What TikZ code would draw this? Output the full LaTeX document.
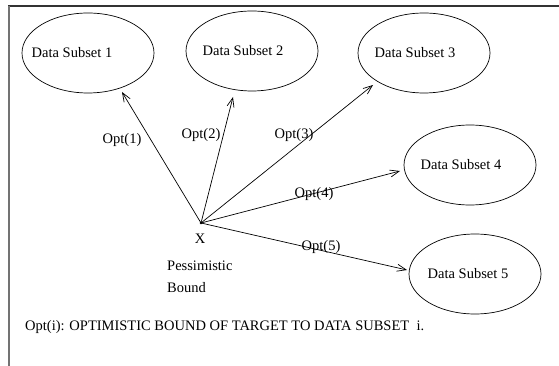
\documentclass[tikz,border=0pt]{standalone}
\usepackage{fontspec}
\setmainfont{Liberation Serif}
\usetikzlibrary{shapes.geometric,arrows.meta}
\begin{document}
\begin{tikzpicture}[x=1pt,y=-1pt,
  subset/.style={draw, ellipse, line width=0.7pt, minimum width=132pt, minimum height=80pt, inner sep=0pt},
  txt/.style={inner sep=0pt, font=\fontsize{14.5}{16}\selectfont},
  optlbl/.style={inner sep=0pt, font=\fontsize{14.5}{16}\selectfont},
  bound/.style={line width=0.7pt, -{Straight Barb[length=9pt,width=7pt,line width=0.7pt]}},
  frameline/.style={line width=1.6pt}]
  \useasboundingbox (0,0) rectangle (559,366);

  % frame
  \coordinate (ftl) at (9,6);
  \coordinate (ftr) at (559,6);
  \coordinate (fbl) at (9,366);
  \draw[frameline, black!80] (8,6) -- (ftr);
  \draw[frameline, black!55] (ftl) -- (fbl);

  % data subsets
  \node[subset] (d1) at (88,53) {};
  \node[subset] (d2) at (252,51) {};
  \node[subset] (d3) at (424,53) {};
  \node[subset] (d4) at (470,165) {};
  \node[subset] (d5) at (475,274) {};
  \node[txt] (t1) at (72,53) {Data Subset 1};
  \node[txt] (t2) at (243,51) {Data Subset 2};
  \node[txt] (t3) at (415,53) {Data Subset 3};
  \node[txt] (t4) at (461,165) {Data Subset 4};
  \node[txt] (t5) at (468,274) {Data Subset 5};

  % pessimistic bound point
  \coordinate (o) at (201,223);
  \fill (o) circle (1.3pt);
  \node[txt] (x) at (200,239) {X};
  \node[txt, anchor=west] (p1) at (167,266) {Pessimistic};
  \node[txt, anchor=west] (p2) at (167,288) {Bound};

  % arrow end points at the subsets
  \coordinate (e1) at (122,92);
  \coordinate (e2) at (233,97);
  \coordinate (e3) at (373,85);
  \coordinate (e4) at (400,171);
  \coordinate (e5) at (407,270);
  \draw[bound] (o) -- (e1);
  \draw[bound] (o) -- (e2);
  \draw[bound] (o) -- (e3);
  \draw[bound] (o) -- (e4);
  \draw[bound] (o) -- (e5);

  % optimistic bound labels
  \node[optlbl] (o1) at (122,140) {Opt(1)};
  \node[optlbl] (o2) at (201,135) {Opt(2)};
  \node[optlbl] (o3) at (294,135) {Opt(3)};
  \node[optlbl] (o4) at (314,194) {Opt(4)};
  \node[optlbl] (o5) at (321,247) {Opt(5)};

  % legend
  \node[txt, anchor=west] (legend) at (25,327) {Opt(i): OPTIMISTIC BOUND OF TARGET TO DATA SUBSET\ \ i.};
\end{tikzpicture}
\end{document}
